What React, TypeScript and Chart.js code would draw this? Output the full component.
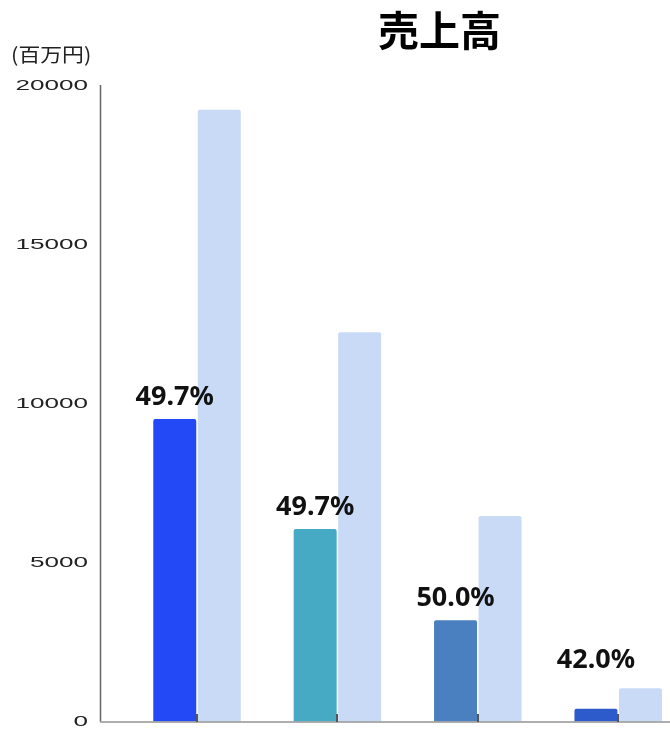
import React, { useEffect, useRef } from 'react';
import { Chart, registerables } from 'chart.js';

Chart.register(...registerables);

const chartTitle = '売上高';
const unitLabel = '(百万円)';
const categories = ['1', '2', '3', '4'];
const currentValues = [9530, 6070, 3200, 420];
const totalValues = [19250, 12260, 6480, 1060];
const shareLabels = ['49.7%', '49.7%', '50.0%', '42.0%'];
const yTickValues = [0, 5000, 10000, 15000, 20000];
const labelAbovePair = [false, false, false, true];

const barColors = ['#2349F6', '#47AAC4', '#4A80BF', '#2E5BCB'];
const lightColor = '#C9DAF6';

const overlayPlugin = {
  id: 'overlay',
  afterDatasetsDraw(chart: any) {
    const ctx = chart.ctx;
    const { left, right, top, bottom } = chart.chartArea;
    const xs = chart.scales.x;
    const ys = chart.scales.y;
    ctx.save();

    // y axis line
    ctx.strokeStyle = '#666';
    ctx.lineWidth = 1.5;
    ctx.beginPath();
    ctx.moveTo(left + 0.5, top - 1);
    ctx.lineTo(left + 0.5, bottom);
    ctx.stroke();

    // x axis line
    ctx.strokeStyle = 'rgba(165,165,165,0.9)';
    ctx.lineWidth = 2;
    ctx.beginPath();
    ctx.moveTo(left, bottom);
    ctx.lineTo(right, bottom);
    ctx.stroke();

    // category tick marks
    ctx.strokeStyle = '#555';
    ctx.lineWidth = 2;
    categories.forEach((_, i) => {
      const px = Math.round(xs.getPixelForValue(i));
      ctx.beginPath();
      ctx.moveTo(px, bottom - 8);
      ctx.lineTo(px, bottom);
      ctx.stroke();
    });

    // y tick labels (wide)
    ctx.fillStyle = '#222';
    ctx.font = '15px "Liberation Sans"';
    ctx.textAlign = 'right';
    ctx.textBaseline = 'middle';
    yTickValues.forEach((v) => {
      const py = ys.getPixelForValue(v);
      ctx.save();
      ctx.translate(left - 12, py);
      ctx.scale(1.74, 1);
      ctx.fillText(String(v), 0, 0);
      ctx.restore();
    });

    // unit label
    ctx.save();
    ctx.font = '19.5px "Noto Sans CJK JP"';
    ctx.textAlign = 'left';
    ctx.textBaseline = 'middle';
    ctx.translate(11, 55);
    ctx.scale(1.12, 1);
    ctx.fillText(unitLabel, 0, 0);
    ctx.restore();

    // title
    ctx.fillStyle = '#000';
    ctx.font = 'bold 41px "Noto Sans CJK JP"';
    ctx.textAlign = 'center';
    ctx.textBaseline = 'middle';
    ctx.fillText(chartTitle, 439.5, 30);

    // share labels
    const m0 = chart.getDatasetMeta(0);
    const m1 = chart.getDatasetMeta(1);
    ctx.font = 'bold 27px "Noto Sans"';
    ctx.textAlign = 'center';
    ctx.textBaseline = 'alphabetic';
    ctx.fillStyle = '#111';
    shareLabels.forEach((lab, i) => {
      const e0 = m0.data[i];
      const e1 = m1.data[i];
      const y = labelAbovePair[i] ? e1.y - 20 : e0.y - 14;
      ctx.fillText(lab, e0.x, y);
    });

    ctx.restore();
  },
};

export default function App() {
  const ref = useRef<HTMLCanvasElement | null>(null);

  useEffect(() => {
    if (!ref.current) return;
    const chart = new Chart(ref.current, {
      type: 'bar',
      data: {
        datasets: [
          {
            label: 'current',
            data: categories.map((_, i) => ({ x: i, y: currentValues[i] })),
            backgroundColor: barColors,
            borderRadius: 2,
            borderSkipped: 'bottom',
          },
          {
            label: 'total',
            data: categories.map((_, i) => ({ x: i, y: totalValues[i] })),
            backgroundColor: lightColor,
            borderRadius: 2,
            borderSkipped: 'bottom',
          },
        ],
      },
      options: {
        responsive: false,
        animation: false,
        layout: { padding: { left: 100, right: 0, top: 86, bottom: 7 } },
        datasets: {
          bar: { categoryPercentage: 0.634, barPercentage: 0.966 },
        },
        plugins: {
          legend: { display: false },
          title: { display: false },
          tooltip: { enabled: false },
        },
        scales: {
          x: {
            type: 'linear',
            display: false,
            offset: false,
            grace: 0,
            min: -0.691,
            max: 3.369,
            afterBuildTicks: (s: any) => {
              s.ticks = categories.map((_, i) => ({ value: i }));
            },
          },
          y: {
            display: false,
            min: 0,
            max: 20000,
            afterBuildTicks: (s: any) => {
              s.ticks = yTickValues.map((v) => ({ value: v }));
            },
          },
        },
      },
      plugins: [overlayPlugin],
    } as any);
    return () => chart.destroy();
  }, []);

  return (
    <div style={{ position: 'fixed', left: 0, top: 0, width: 670, height: 729, background: '#fff', overflow: 'hidden' }}>
      <canvas ref={ref} width={670} height={729} style={{ display: 'block' }} />
    </div>
  );
}
